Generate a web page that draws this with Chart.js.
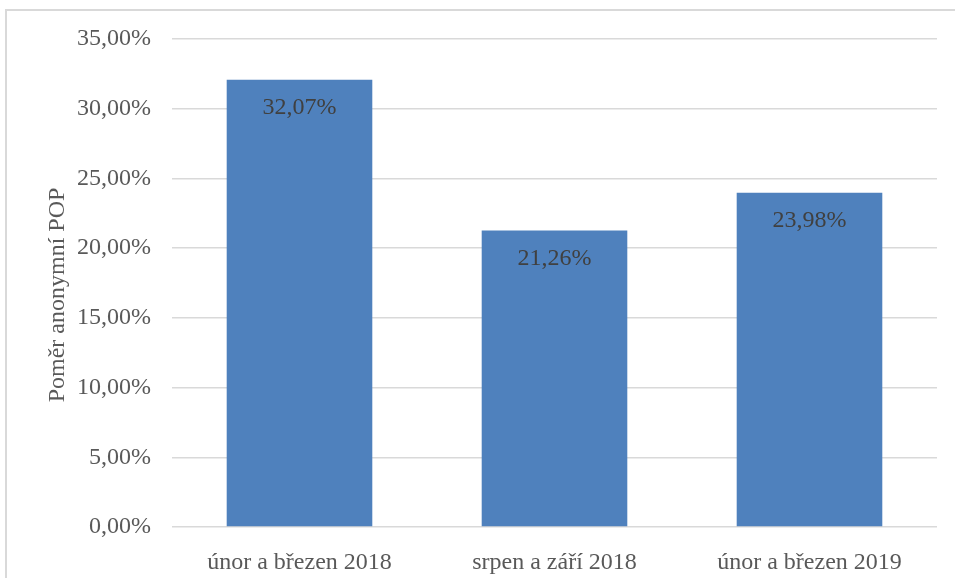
<!DOCTYPE html>
<html lang="cs">
<head>
    <meta charset="UTF-8">
    <title>Poměr anonymní POP</title>
    <script src="https://cdn.jsdelivr.net/npm/chart.js@4.4.0/dist/chart.umd.min.js"></script>
    <style>
        html, body { margin: 0; padding: 0; overflow: hidden; background: #fff; }
        .frame { position: absolute; left: 5px; top: 9px; width: 1000px; height: 1000px; border: 2px solid #d9d9d9; }
        .wrap { position: absolute; left: 0; top: 0; width: 955px; height: 578px; }
    </style>
</head>
<body>
<div class="frame"></div>
<div class="wrap"><canvas id="popChart" width="955" height="578"></canvas></div>
<script>
    const categories = ['únor a březen 2018', 'srpen a září 2018', 'únor a březen 2019'];
    const values = [32.07, 21.26, 23.98];
    const yTicks = [0, 5, 10, 15, 20, 25, 30, 35];
    const axisTitle = 'Poměr anonymní POP';

    const fmt = v => v.toFixed(2).replace('.', ',') + '%';
    const serif = "'Liberation Serif', 'Times New Roman', serif";

    // values written inside the top of each bar
    const barLabels = {
        id: 'barLabels',
        afterDatasetsDraw(chart) {
            const ctx = chart.ctx;
            const meta = chart.getDatasetMeta(0);
            ctx.save();
            ctx.font = '24px ' + serif;
            ctx.fillStyle = '#404040';
            ctx.textAlign = 'center';
            ctx.textBaseline = 'middle';
            meta.data.forEach((bar, i) => {
                ctx.fillText(fmt(values[i]), bar.x, bar.y + 28);
            });
            ctx.restore();
        }
    };

    // rotated y axis title
    const yTitle = {
        id: 'yTitle',
        afterDraw(chart) {
            const ctx = chart.ctx;
            ctx.save();
            ctx.translate(64, 295);
            ctx.rotate(-Math.PI / 2);
            ctx.font = '24px ' + serif;
            ctx.fillStyle = '#595959';
            ctx.textAlign = 'center';
            ctx.textBaseline = 'alphabetic';
            ctx.fillText(axisTitle, 0, 0);
            ctx.restore();
        }
    };

    new Chart(document.getElementById('popChart'), {
        type: 'bar',
        data: {
            labels: categories,
            datasets: [{
                data: values,
                backgroundColor: '#4f81bd',
                categoryPercentage: 1,
                barPercentage: 0.571
            }]
        },
        options: {
            responsive: false,
            animation: false,
            devicePixelRatio: 1,
            layout: { padding: { top: 39, right: 18, bottom: 0, left: 0 } },
            plugins: { legend: { display: false }, tooltip: { enabled: false } },
            scales: {
                x: {
                    grid: { display: false },
                    border: { display: false },
                    ticks: { color: '#595959', font: { family: serif, size: 24 }, padding: 13, maxRotation: 0 },
                    afterFit: s => { s.height = 51; }
                },
                y: {
                    min: 0,
                    max: 35,
                    afterBuildTicks: s => { s.ticks = yTicks.map(v => ({ value: v })); },
                    grid: { color: '#d9d9d9', lineWidth: 1.5, drawTicks: false },
                    border: { display: false },
                    ticks: { color: '#595959', font: { family: serif, size: 24 }, padding: 21, callback: v => fmt(v) },
                    afterFit: s => { s.width = 172; }
                }
            }
        },
        plugins: [barLabels, yTitle]
    });
</script>
</body>
</html>
